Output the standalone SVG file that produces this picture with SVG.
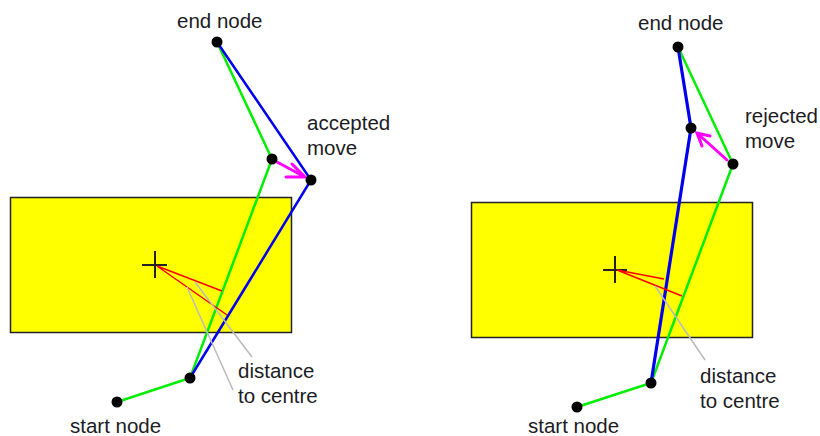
<svg xmlns="http://www.w3.org/2000/svg" width="820" height="436" viewBox="0 0 820 436">
<style>
text{font-family:"Liberation Sans",Arial,sans-serif;font-size:20.5px;fill:#1c1c24}
.box{fill:#ffff00;stroke:#222;stroke-width:1.5}
.g{stroke:#00ee00;stroke-width:2.5;fill:none}
.b{stroke:#0000ee;stroke-width:2.5;fill:none}
.b3{stroke:#0000ee;stroke-width:3.2;fill:none}
.r{stroke:#ff0000;stroke-width:1.5;fill:none}
.gr{stroke:#bbbbbb;stroke-width:1.5;fill:none}
.x{stroke:#222;stroke-width:2;fill:none}
.m{stroke:#ff00ff;stroke-width:3;fill:none;stroke-linecap:round}
.n{fill:#000}
</style>
<rect class="box" x="10.5" y="197.5" width="281" height="135"/>
<rect class="box" x="471.5" y="202.5" width="281" height="135"/>
<g id="cross-left"><path class="x" d="M142 265H167M155 251V278"/></g>
<g id="cross-right"><path class="x" d="M603 270H627M615 256V283"/></g>
<g id="connectors">
<polyline class="g" points="117,402 190,378 272,159 217,42"/>
<polyline class="b" points="190,378 311,180 217,42"/>
<polyline class="g" points="577,407 651,383 733,164 678,47"/>
<polyline class="b3" points="651,383 691,128 678,47"/>
<path class="r" d="M157 266L222 291M157 266L227 315"/>
<path class="r" d="M617 270L664 279M617 270L682 296"/>
<path class="gr" d="M187 287L233 390M195 282L252 357"/>
<path class="gr" d="M655 286L705 360"/>
<path class="m" d="M277 162L305 177M292 164L305 177L286 177"/>
<path class="m" d="M727 160L697 133M702 146L697 133L710 136"/>
</g>
<g id="left-end"><circle class="n" cx="217" cy="42" r="5.5"/><text x="177" y="28">end node</text></g>
<g id="left-mid"><circle class="n" cx="272" cy="159" r="5.5"/></g>
<g id="left-moved"><circle class="n" cx="311" cy="180" r="5.5"/><text x="307" y="130">accepted</text><text x="307" y="155">move</text></g>
<g id="left-lower"><circle class="n" cx="190" cy="378" r="5.5"/></g>
<g id="left-start"><circle class="n" cx="117" cy="402" r="5.5"/><text x="70" y="433">start node</text></g>
<g id="left-label"><text x="238" y="378">distance</text><text x="238" y="403">to centre</text></g>
<g id="right-end"><circle class="n" cx="678" cy="47" r="5.5"/><text x="638" y="30">end node</text></g>
<g id="right-rejected"><circle class="n" cx="691" cy="128" r="5.5"/></g>
<g id="right-mid"><circle class="n" cx="733" cy="164" r="5.5"/><text x="745" y="123">rejected</text><text x="745" y="148">move</text></g>
<g id="right-lower"><circle class="n" cx="651" cy="383" r="5.5"/></g>
<g id="right-start"><circle class="n" cx="577" cy="407" r="5.5"/><text x="528" y="433">start node</text></g>
<g id="right-label"><text x="700" y="383">distance</text><text x="700" y="408">to centre</text></g>
</svg>
